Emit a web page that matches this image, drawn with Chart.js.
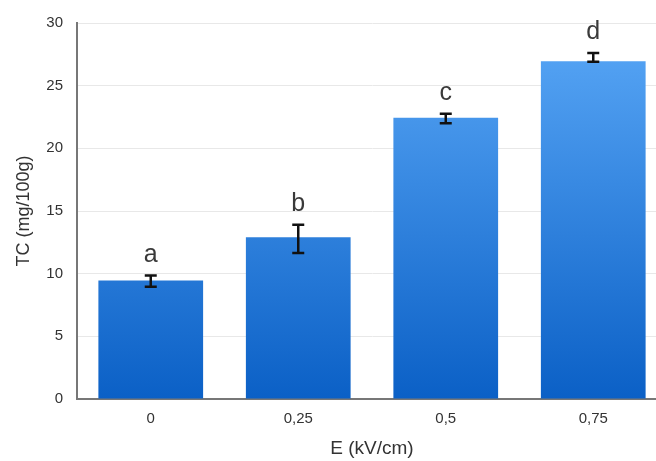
<!DOCTYPE html>
<html>
<head>
<meta charset="utf-8">
<script src="https://cdn.jsdelivr.net/npm/chart.js@4"></script>
<style>
  html, body { margin: 0; padding: 0; background: #fff; overflow: hidden; width: 656px; height: 461px; }
  canvas { display: block; }
</style>
</head>
<body>
<canvas id="tcChart" width="667" height="461"></canvas>
<script>
// ===== Datos =====
const fieldLabels = ['0', '0,25', '0,5', '0,75'];
const tcValues = [9.45, 12.9, 22.45, 26.95];
const errLow = [8.95, 11.65, 22.0, 26.9];
const errHigh = [9.85, 13.9, 22.75, 27.6];
const groupLetters = ['a', 'b', 'c', 'd'];
const yTicks = [0, 5, 10, 15, 20, 25, 30];

const font = '"Liberation Sans", Arial, sans-serif';

// barras de error y letras
const errorBars = {
  id: 'errorBars',
  afterDatasetsDraw(chart) {
    const ctx = chart.ctx;
    const y = chart.scales.y;
    const meta = chart.getDatasetMeta(0);
    ctx.save();
    ctx.strokeStyle = '#111';
    ctx.lineWidth = 2.5;
    meta.data.forEach((bar, i) => {
      const yl = y.getPixelForValue(errLow[i]);
      const yh = y.getPixelForValue(errHigh[i]);
      ctx.beginPath();
      ctx.moveTo(bar.x, yl); ctx.lineTo(bar.x, yh);
      ctx.moveTo(bar.x - 6, yl); ctx.lineTo(bar.x + 6, yl);
      ctx.moveTo(bar.x - 6, yh); ctx.lineTo(bar.x + 6, yh);
      ctx.stroke();

      ctx.fillStyle = '#3a3a3a';
      ctx.font = '25px ' + font;
      ctx.textAlign = 'center';
      ctx.textBaseline = 'alphabetic';
      ctx.fillText(groupLetters[i], bar.x, yh - 14);
    });
    ctx.restore();
  }
};

const tcChart = document.getElementById('tcChart');

new Chart(tcChart, {
  type: 'bar',

  data: {
    labels: fieldLabels,

    datasets: [{
      data: tcValues,
      backgroundColor(context) {
        const area = context.chart.chartArea;
        if (!area) return '#3a8ae6';
        const g = context.chart.ctx.createLinearGradient(0, area.top, 0, area.bottom);
        g.addColorStop(0, '#5aa8f7');
        g.addColorStop(1, '#0b60c6');
        return g;
      },
      borderWidth: 0,
      categoryPercentage: 1,
      barPercentage: 0.71
    }]
  },

  options: {
    responsive: false,
    animation: false,
    layout: { padding: { top: 19, right: 0, left: 0, bottom: 0 } },

    scales: {
      x: {
        grid: { display: false, drawTicks: false },
        border: { color: '#777', width: 2 },
        ticks: { color: '#333', font: { family: font, size: 15 }, padding: 11 },
        title: {
          display: true,
          text: 'E (kV/cm)',
          color: '#333',
          font: { family: font, size: 19 },
          padding: { top: 11, bottom: 1 }
        },
        afterFit(axis) { axis.height = 62; }
      },
      y: {
        min: 0,
        max: 30,
        afterBuildTicks(axis) { axis.ticks = yTicks.map(v => ({ value: v })); },
        grid: { color: '#e8e8e8', drawTicks: false },
        border: { color: '#777', width: 2 },
        ticks: { color: '#333', font: { family: font, size: 15 }, padding: 14 },
        title: {
          display: true,
          text: 'TC (mg/100g)',
          color: '#333',
          font: { family: font, size: 18 },
          padding: { top: 13, bottom: 0 }
        },
        afterFit(axis) { axis.width = 77; }
      }
    },

    plugins: {
      legend: { display: false },
      tooltip: { enabled: false }
    }
  },

  plugins: [errorBars]
});
</script>
</body>
</html>
